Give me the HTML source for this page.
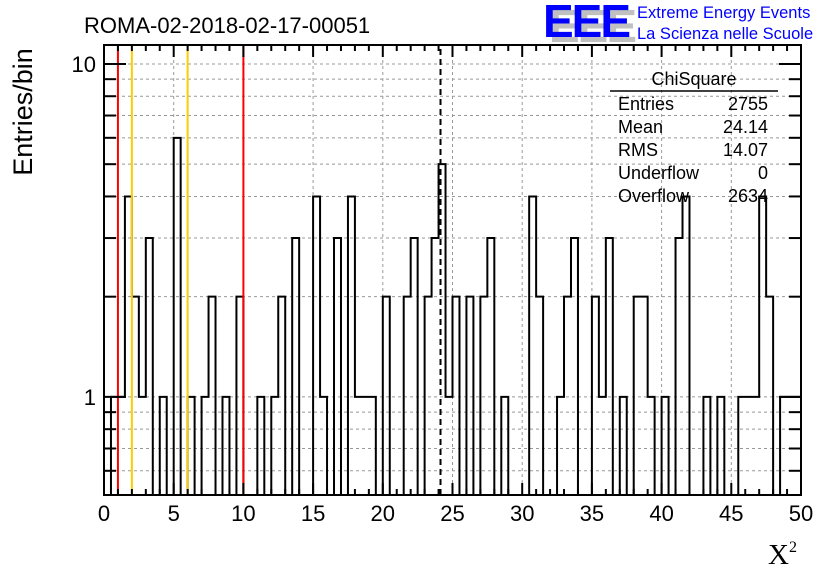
<!DOCTYPE html>
<html><head><meta charset="utf-8"><style>
body{margin:0;background:#fff;}
svg{display:block;font-family:"Liberation Sans",sans-serif;}
</style></head><body>
<svg id="chart" width="836" height="572">
<g id="grid"></g>
<g id="hist"></g>
<g id="lines"></g>
<g id="axes"></g>
<text x="84" y="33" font-size="22">ROMA-02-2018-02-17-00051</text>
<g>
<text x="549" y="42" font-size="46" font-weight="bold" fill="#c0c0c0" letter-spacing="-2">EEE</text>
<text x="543" y="37" font-size="46" font-weight="bold" fill="#0000ff" letter-spacing="-2">EEE</text>
<text x="637" y="18" font-size="16.5" fill="#0000ff">Extreme Energy Events</text>
<text x="637" y="39" font-size="16.5" fill="#0000ff">La Scienza nelle Scuole</text>
</g>
<g font-size="18">
<text x="694" y="85" text-anchor="middle">ChiSquare</text>
<line x1="610" y1="91" x2="778" y2="91" stroke="#000" stroke-width="1.5"/>
<text x="618" y="110">Entries</text><text x="768" y="110" text-anchor="end">2755</text>
<text x="618" y="133">Mean</text><text x="768" y="133" text-anchor="end">24.14</text>
<text x="618" y="156">RMS</text><text x="768" y="156" text-anchor="end">14.07</text>
<text x="618" y="179">Underflow</text><text x="768" y="179" text-anchor="end">0</text>
<text x="618" y="202">Overflow</text><text x="768" y="202" text-anchor="end">2634</text>
</g>
<text transform="translate(32,112) rotate(-90)" font-size="27" text-anchor="middle">Entries/bin</text>
<text x="768" y="564" font-size="29" font-family="Liberation Serif,serif">X<tspan font-size="16" dy="-12">2</tspan></text>
</svg>
<script>
const counts=[0,1,1,4,2,1,3,0,1,0,6,0,1,0,1,2,0,1,0,2,0,0,1,0,1,2,0,3,0,0,4,1,0,3,0,4,1,1,1,0,2,0,0,2,3,0,2,3,5,1,2,0,2,0,2,3,0,1,0,0,0,4,2,0,0,1,2,3,0,0,2,1,3,0,1,0,2,2,1,0,1,0,3,4,0,0,1,0,1,0,0,1,1,1,4,2,0,1,1,1];
const xTicks=[0,5,10,15,20,25,30,35,40,45,50];
const yMajor=[1,10];
const yMinor=[0.6,0.7,0.8,0.9,2,3,4,5,6,7,8,9];
const redLines=[1,10];
const orangeLines=[2,6];
const meanValue=[24.14];
const X0=104,X1=801,Y0=495,Y1=45,xMin=0,xMax=50,yMin=0.5075,yMax=11.4;
const sx=v=>X0+(v-xMin)/(xMax-xMin)*(X1-X0);
const sy=v=>Y0-(Math.log10(v)-Math.log10(yMin))/(Math.log10(yMax)-Math.log10(yMin))*(Y0-Y1);
const NS="http://www.w3.org/2000/svg";
function mk(tag,attrs,parent){const e=document.createElementNS(NS,tag);for(const k in attrs)e.setAttribute(k,attrs[k]);parent.appendChild(e);return e;}
const grid=document.getElementById('grid'),hist=document.getElementById('hist'),lines=document.getElementById('lines'),axes=document.getElementById('axes');
xTicks.forEach(v=>{const l=mk('line',{x1:sx(v),x2:sx(v),y1:Y0,y2:Y1,stroke:'#999','stroke-dasharray':'3,3'},grid);

});
yMajor.concat(yMinor).forEach(v=>{const l=mk('line',{x1:X0,x2:X1,y1:sy(v),y2:sy(v),stroke:'#999','stroke-dasharray':'3,3'},grid);

});
const bw=(xMax-xMin)/counts.length;
const yb=v=>v>0?Math.max(Y1,sy(v)):Y0;
let d='M'+sx(0)+','+Y0;
counts.forEach((c,i)=>{const y=yb(c);d+=' L'+sx(i*bw)+','+y+' L'+sx((i+1)*bw)+','+y;});
d+=' L'+sx(xMax)+','+Y0;
const hp=mk('path',{d:d,fill:'none',stroke:'#000','stroke-width':2},hist);


redLines.forEach(v=>{const l=mk('line',{x1:sx(v),x2:sx(v),y1:Y0,y2:Y1,stroke:'#ff0000','stroke-width':2},lines);

});
orangeLines.forEach(v=>{const l=mk('line',{x1:sx(v),x2:sx(v),y1:Y0,y2:Y1,stroke:'#ffcc00','stroke-width':2},lines);

});
meanValue.forEach(v=>{const l=mk('line',{x1:sx(v),x2:sx(v),y1:Y0,y2:Y1,stroke:'#000','stroke-width':2,'stroke-dasharray':'6,4'},lines);

});
const fr=mk('rect',{x:X0,y:Y1,width:X1-X0,height:Y0-Y1,fill:'none',stroke:'#000','stroke-width':2},axes);


for(let v=0;v<=50;v++){const L=v%5===0?12:6;
mk('line',{x1:sx(v),x2:sx(v),y1:Y0,y2:Y0-L,stroke:'#000','stroke-width':2},axes);
mk('line',{x1:sx(v),x2:sx(v),y1:Y1,y2:Y1+L,stroke:'#000','stroke-width':2},axes);}
xTicks.forEach(v=>{const t=mk('text',{x:sx(v),y:521,'font-size':22,'text-anchor':'middle'},axes);t.textContent=v;

});
yMajor.concat(yMinor).forEach(v=>{const L=yMajor.includes(v)?22:12;
mk('line',{x1:X0,x2:X0+L,y1:sy(v),y2:sy(v),stroke:'#000','stroke-width':2},axes);
mk('line',{x1:X1,x2:X1-L,y1:sy(v),y2:sy(v),stroke:'#000','stroke-width':2},axes);});
yMajor.forEach(v=>{const t=mk('text',{x:96,y:sy(v)+8,'font-size':22,'text-anchor':'end'},axes);t.textContent=v;

});
</script>
</body></html>
